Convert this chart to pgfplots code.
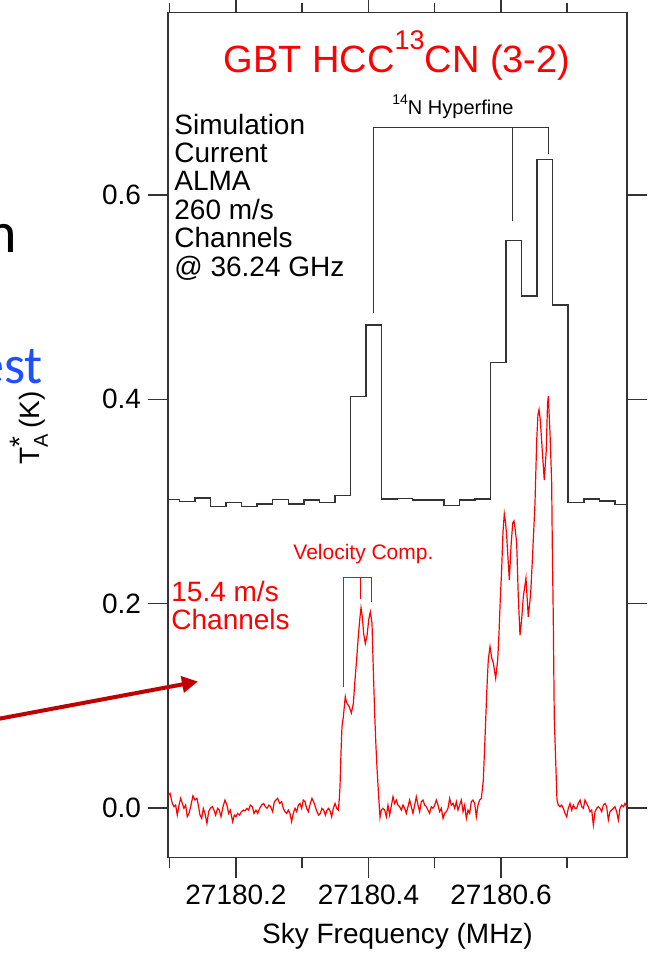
\documentclass[border=0pt]{standalone}
\usepackage{fontspec}
\setmainfont{Liberation Sans}
\newfontfamily\calibri{Carlito}
\usepackage{amsmath}
\usepackage{pgfplots}
\usepackage{pgfplotstable}
\pgfplotsset{compat=1.18}
\usetikzlibrary{arrows.meta}

\definecolor{trace}{RGB}{255,0,0}
\definecolor{arrowred}{RGB}{192,0,0}
\definecolor{slideblue}{RGB}{30,80,255}
\newcommand\fs[1]{\fontsize{#1}{#1}\selectfont}

% x = sky frequency - 27180 MHz, T = antenna temperature (K)
% simulated ALMA spectrum, 260 m/s channels (left channel edges)
\pgfplotstableread{
f T
0.0910 0.3020
0.1145 0.3002
0.1380 0.3034
0.1615 0.2949
0.1849 0.2988
0.2084 0.2949
0.2319 0.2975
0.2554 0.3018
0.2789 0.2978
0.3023 0.3015
0.3258 0.2992
0.3493 0.3057
0.3728 0.4026
0.3963 0.4727
0.4197 0.3024
0.4432 0.3031
0.4667 0.3015
0.4902 0.3015
0.5137 0.2963
0.5371 0.3015
0.5606 0.3024
0.5841 0.4362
0.6076 0.5553
0.6310 0.5011
0.6545 0.6349
0.6780 0.4923
0.7015 0.2992
0.7250 0.3027
0.7484 0.3005
0.7719 0.2969
0.7954 0.2969
}\almatable

% GBT spectrum, 15.4 m/s channels
\pgfplotstableread{
f T
0.0974 0.0120
0.1004 0.0144
0.1039 0.0045
0.1064 0.0013
0.1089 0.0029
0.1114 -0.0069
0.1140 0.0029
0.1165 0.0095
0.1190 0.0045
0.1215 -0.0003
0.1240 0.0029
0.1265 -0.0085
0.1291 -0.0052
0.1321 0.0029
0.1351 0.0121
0.1381 0.0078
0.1411 0.0095
0.1431 0.0029
0.1457 -0.0069
0.1482 -0.0101
0.1507 -0.0003
0.1532 -0.0052
0.1562 -0.0150
0.1587 -0.0036
0.1613 -0.0003
0.1643 0.0013
0.1668 -0.0020
0.1693 -0.0069
0.1723 -0.0003
0.1748 -0.0020
0.1774 -0.0085
0.1804 0.0013
0.1834 0.0078
0.1864 0.0029
0.1889 -0.0052
0.1914 -0.0020
0.1950 -0.0134
0.1975 -0.0069
0.2000 -0.0085
0.2025 -0.0052
0.2055 -0.0069
0.2081 -0.0036
0.2111 -0.0020
0.2136 -0.0028
0.2166 -0.0003
0.2191 -0.0020
0.2216 0.0029
0.2247 0.0013
0.2272 -0.0052
0.2302 -0.0020
0.2327 -0.0052
0.2357 -0.0003
0.2387 0.0029
0.2418 0.0045
0.2443 0.0013
0.2468 -0.0003
0.2498 0.0029
0.2523 0.0013
0.2553 -0.0036
0.2579 0.0062
0.2604 0.0078
0.2629 0.0095
0.2659 0.0045
0.2689 0.0062
0.2714 -0.0003
0.2740 -0.0036
0.2765 -0.0052
0.2790 -0.0020
0.2815 -0.0052
0.2840 -0.0134
0.2865 -0.0052
0.2891 -0.0003
0.2916 -0.0036
0.2941 0.0029
0.2966 0.0045
0.2991 -0.0003
0.3016 0.0078
0.3042 0.0062
0.3067 -0.0003
0.3092 -0.0036
0.3122 0.0045
0.3147 0.0095
0.3172 0.0062
0.3197 0.0013
0.3223 -0.0036
0.3248 -0.0069
0.3273 -0.0052
0.3298 -0.0003
0.3323 -0.0020
0.3349 -0.0069
0.3374 -0.0020
0.3399 -0.0003
0.3424 -0.0036
0.3444 -0.0085
0.3469 -0.0003
0.3495 0.0045
0.3520 -0.0003
0.3545 -0.0020
0.3560 0.0095
0.3570 0.0210
0.3585 0.0540
0.3600 0.0800
0.3620 0.0890
0.3650 0.1090
0.3666 0.1040
0.3681 0.1020
0.3711 0.0990
0.3741 0.0930
0.3771 0.1020
0.3796 0.1250
0.3821 0.1450
0.3846 0.1680
0.3872 0.1870
0.3887 0.1960
0.3907 0.1870
0.3927 0.1710
0.3952 0.1610
0.3977 0.1680
0.4003 0.1840
0.4028 0.1920
0.4053 0.1810
0.4073 0.1350
0.4093 0.0930
0.4113 0.0600
0.4133 0.0340
0.4154 0.0110
0.4174 -0.0090
0.4194 -0.0020
0.4219 -0.0003
0.4244 -0.0020
0.4269 -0.0085
0.4294 0.0029
0.4320 -0.0069
0.4370 0.0111
0.4395 0.0045
0.4420 0.0078
0.4445 0.0029
0.4470 0.0013
0.4496 -0.0020
0.4521 0.0029
0.4546 -0.0003
0.4571 -0.0052
0.4596 0.0013
0.4621 0.0078
0.4647 0.0013
0.4672 -0.0052
0.4697 0.0029
0.4722 0.0111
0.4747 0.0029
0.4772 -0.0036
0.4797 0.0062
0.4823 0.0078
0.4848 0.0029
0.4873 0.0013
0.4898 -0.0020
0.4923 -0.0052
0.4948 0.0013
0.4974 -0.0003
0.4999 0.0029
0.5024 0.0078
0.5049 0.0029
0.5074 -0.0036
0.5099 -0.0003
0.5125 -0.0101
0.5150 -0.0052
0.5175 -0.0036
0.5200 -0.0003
0.5225 0.0095
0.5250 0.0029
0.5276 0.0045
0.5301 -0.0003
0.5326 0.0062
0.5351 -0.0020
0.5376 0.0029
0.5401 0.0078
0.5427 -0.0036
0.5452 0.0029
0.5477 -0.0101
0.5502 -0.0020
0.5527 -0.0052
0.5552 0.0062
0.5577 0.0078
0.5603 0.0045
0.5628 -0.0085
0.5653 0.0029
0.5678 0.0078
0.5703 0.0095
0.5733 0.0270
0.5758 0.0670
0.5784 0.1120
0.5808 0.1450
0.5834 0.1580
0.5860 0.1470
0.5884 0.1420
0.5920 0.1270
0.5950 0.1450
0.5970 0.1710
0.5989 0.2040
0.6010 0.2330
0.6030 0.2700
0.6050 0.2880
0.6068 0.2800
0.6086 0.2660
0.6110 0.2400
0.6126 0.2230
0.6151 0.2560
0.6177 0.2790
0.6196 0.2810
0.6216 0.2720
0.6237 0.2590
0.6261 0.2070
0.6287 0.1690
0.6312 0.1850
0.6337 0.2070
0.6377 0.2250
0.6412 0.1870
0.6448 0.2100
0.6478 0.2490
0.6513 0.2980
0.6539 0.3600
0.6558 0.3850
0.6574 0.3900
0.6593 0.3800
0.6623 0.3500
0.6653 0.3210
0.6683 0.3500
0.6702 0.3950
0.6714 0.4030
0.6740 0.3670
0.6765 0.3180
0.6774 0.2590
0.6789 0.1870
0.6804 0.0890
0.6825 0.0470
0.6845 0.0080
0.6865 0.0029
0.6891 0.0013
0.6916 0.0029
0.6941 -0.0003
0.6966 -0.0052
0.6991 -0.0085
0.7016 -0.0003
0.7042 0.0045
0.7067 -0.0020
0.7092 0.0029
0.7117 -0.0003
0.7142 -0.0003
0.7167 0.0045
0.7193 0.0078
0.7218 0.0013
0.7243 -0.0003
0.7268 0.0078
0.7293 0.0045
0.7318 0.0013
0.7343 -0.0036
0.7369 -0.0020
0.7394 -0.0166
0.7419 -0.0036
0.7444 -0.0003
0.7469 0.0013
0.7494 -0.0003
0.7520 -0.0036
0.7545 0.0029
0.7570 0.0045
0.7595 0.0013
0.7620 -0.0117
0.7645 -0.0036
0.7671 -0.0020
0.7696 -0.0003
0.7721 0.0013
0.7746 -0.0036
0.7771 -0.0117
0.7796 -0.0003
0.7822 0.0029
0.7847 0.0013
0.7872 0.0045
0.7897 0.0013
}\gbttable

\begin{document}
\begin{tikzpicture}
\useasboundingbox (0,0) rectangle (324.5pt,476.5pt);
\clip (0,0) rectangle (324.5pt,476.5pt);

\begin{axis}[
    at={(84pt,47.65pt)}, anchor=south west,
    scale only axis, width=229.5pt, height=422.5pt,
    xmin=0.0974, xmax=0.7902, ymin=-0.0486, ymax=0.7784,
    xtick={0.2,0.4,0.6}, xticklabels={27180.2,27180.4,27180.6},
    minor xtick={0.1,0.3,0.5,0.7},
    ytick={0,0.2,0.4,0.6},
    yticklabel style={/pgf/number format/.cd, fixed, fixed zerofill, precision=1},
    /pgf/number format/assume math mode=true,
    tick align=outside, major tick length=10pt, minor tick length=5pt,
    tick style={black!80, line width=0.75pt},
    axis line style={black!80, line width=0.75pt},
    ticklabel style={font=\fs{14}},
    label style={font=\fs{14}},
    xlabel={Sky Frequency (MHz)},
    ylabel={T$_{\text{\fs{10}A}}^{\text{\fs{14}*}}$\,(K)},
    xlabel style={at={(axis description cs:0.5,-0.1021)}, anchor=base},
    ylabel style={at={(axis description cs:-0.3028,0.5085)}, anchor=center},
]
\addplot[const plot, black!80, line width=0.75pt] table[x=f, y=T] {\almatable};
\addplot[trace, line width=0.6pt] table[x=f, y=T] {\gbttable};
\end{axis}

% annotations, in pixel units of the reference (origin top left)
\begin{scope}[x=0.5pt, y=-0.5pt, yshift=476.5pt]
\node[anchor=base, text=trace, inner sep=0] at (397,73)
    {\fs{19}GBT HCC\raisebox{11.5pt}{\fs{13.5}13}CN (3-2)};
\node[anchor=base west, inner sep=0] at (392,115)
    {\fs{10}\raisebox{5pt}{\fs{7}14}N Hyperfine};
\foreach \t [count=\i] in {Simulation, Current, ALMA, 260 m/s, Channels, @ 36.24 GHz}
    \node[anchor=base west, inner sep=0] at (174,{134.3+28.35*(\i-1)}) {\fs{14}\t};
\node[anchor=base west, inner sep=0, text=trace] at (171,601.7) {\fs{14}15.4 m/s};
\node[anchor=base west, inner sep=0, text=trace] at (171,630) {\fs{14}Channels};
\node[anchor=base west, inner sep=0, text=trace] at (293,559.3) {\fs{10.5}Velocity Comp.};

\draw[black!80, line width=0.5pt] (373,313) -- (373,128) -- (548,128) -- (548,154);
\draw[black!80, line width=0.5pt] (512,128) -- (512,221);
\draw[trace, line width=0.5pt] (343.7,687) -- (343.7,577.5) -- (371.7,577.5) -- (371.7,602);
\draw[trace, line width=0.5pt] (360.2,577.5) -- (360.2,599.5);

\node[anchor=base east, inner sep=0] at (17,253) {\calibri\fs{29}n};
\node[anchor=base east, inner sep=0, text=slideblue] at (43,384) {\calibri\fs{27}est};
\draw[arrowred, line width=2pt, -{Triangle[length=8pt,width=8pt]}] (-5,719.5) -- (198,681.5);
\end{scope}
\end{tikzpicture}
\end{document}
